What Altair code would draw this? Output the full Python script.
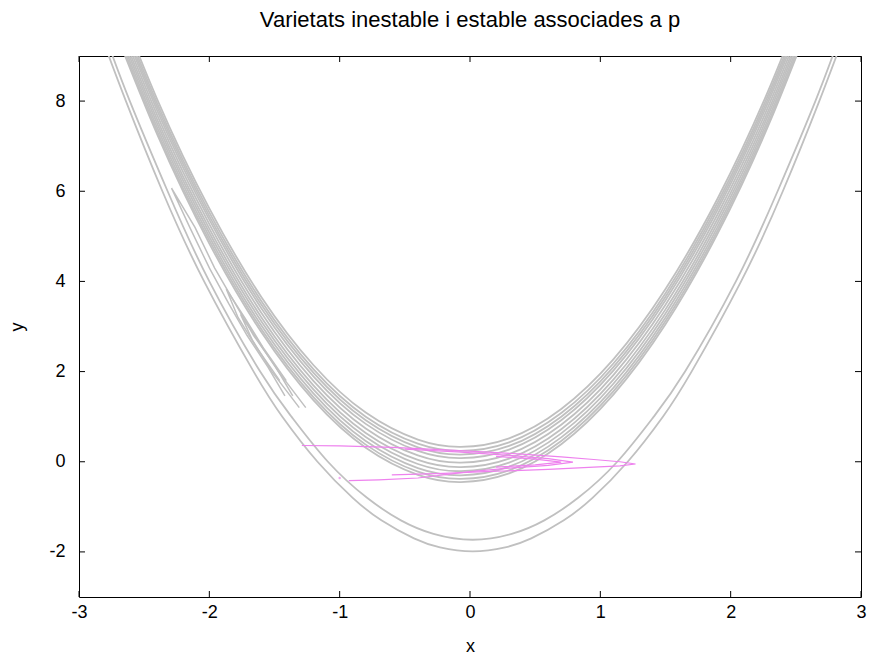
import altair as alt
import pandas as pd

# ---------------- data ----------------
X_TICKS = [-3, -2, -1, 0, 1, 2, 3]
Y_TICKS = [-2, 0, 2, 4, 6, 8]

# outer parabola pair (stable manifold, lower branches)
A_OUTER_X = [-2.81, -2.64, -2.36, -2.04, -1.66, -1.44, -1.17, -0.90, -0.68, -0.43, -0.23, 0.02,
             0.27, 0.47, 0.72, 0.94, 1.21, 1.48, 1.70, 2.08, 2.40, 2.68, 2.85]
A_OUTER_Y = [9.3, 8.0, 6.0, 4.0, 2.0, 1.0, 0.0, -0.8, -1.3, -1.7, -1.9, -1.99,
             -1.9, -1.7, -1.3, -0.8, 0.0, 1.0, 2.0, 4.0, 6.0, 8.0, 9.3]
A_INNER_X = [-2.78, -2.61, -2.32, -2.00, -1.61, -1.37, -1.09, -0.79, -0.53, -0.28, 0.02,
             0.32, 0.57, 0.83, 1.13, 1.41, 1.65, 2.04, 2.36, 2.65, 2.82]
A_INNER_Y = [9.3, 8.0, 6.0, 4.0, 2.0, 1.0, 0.0, -0.8, -1.3, -1.6, -1.73,
             -1.6, -1.3, -0.8, 0.0, 1.0, 2.0, 4.0, 6.0, 8.0, 9.3]

# main band of the stable manifold (shared x positions)
BAND_X = [-2.8, -2.4, -2.0, -1.6, -1.2, -0.8, -0.4, -0.07, 0.3, 0.7, 1.1, 1.5, 1.9, 2.3, 2.7]
BAND_1 = [10.91, 8.04, 5.62, 3.65, 2.14, 1.09, 0.49, 0.33, 0.52, 1.17, 2.27, 3.83, 5.84, 8.31, 11.23]
BAND_2 = [10.82, 7.95, 5.53, 3.56, 2.05, 1.00, 0.40, 0.24, 0.43, 1.08, 2.18, 3.74, 5.75, 8.22, 11.14]
BAND_3 = [10.74, 7.87, 5.45, 3.48, 1.97, 0.92, 0.32, 0.16, 0.35, 1.00, 2.10, 3.66, 5.67, 8.14, 11.06]
BAND_4 = [10.66, 7.79, 5.37, 3.40, 1.89, 0.84, 0.24, 0.08, 0.27, 0.92, 2.02, 3.58, 5.59, 8.06, 10.98]
BAND_5 = [10.56, 7.69, 5.27, 3.30, 1.79, 0.74, 0.14, -0.02, 0.17, 0.82, 1.92, 3.48, 5.49, 7.96, 10.88]
BAND_6 = [10.46, 7.59, 5.17, 3.20, 1.69, 0.64, 0.04, -0.12, 0.07, 0.72, 1.82, 3.38, 5.39, 7.86, 10.78]
BAND_7 = [10.37, 7.50, 5.08, 3.11, 1.60, 0.55, -0.05, -0.21, -0.02, 0.63, 1.73, 3.29, 5.30, 7.77, 10.69]
BAND_8 = [10.28, 7.41, 4.99, 3.02, 1.51, 0.46, -0.14, -0.30, -0.11, 0.54, 1.64, 3.20, 5.21, 7.68, 10.60]
BAND_9 = [10.20, 7.33, 4.91, 2.94, 1.43, 0.38, -0.22, -0.38, -0.19, 0.46, 1.56, 3.12, 5.13, 7.60, 10.52]
BAND_10 = [10.13, 7.26, 4.84, 2.87, 1.36, 0.31, -0.29, -0.45, -0.26, 0.39, 1.49, 3.05, 5.06, 7.53, 10.45]

# fold tips on the left arm
FOLD_1_X = [-1.42, -1.55, -1.71, -1.85, -2.00, -2.15, -2.29, -2.11, -1.96, -1.80, -1.66, -1.49, -1.36]
FOLD_1_Y = [1.46, 2.1, 2.8, 3.5, 4.3, 5.2, 6.07, 5.2, 4.3, 3.5, 2.8, 2.1, 1.46]
FOLD_2_X = [-1.46, -1.63, -1.78, -1.87, -1.73, -1.58, -1.41]
FOLD_2_Y = [1.8, 2.5, 3.2, 3.83, 3.2, 2.5, 1.8]
FOLD_3_X = [-1.31, -1.52, -1.67, -1.76, -1.63, -1.47, -1.26]
FOLD_3_Y = [1.2, 2.0, 2.7, 3.27, 2.7, 2.0, 1.2]

# unstable manifold (pink)
PINK_1_X = [-1.29, -1.0, -0.6, -0.23, 0.1, 0.4, 0.7, 0.95, 1.15, 1.27, 1.15, 0.95, 0.6, 0.2, -0.2, -0.6]
PINK_1_Y = [0.36, 0.35, 0.32, 0.27, 0.22, 0.17, 0.11, 0.05, 0.0, -0.05, -0.09, -0.12, -0.17, -0.21, -0.26, -0.29]
PINK_2_X = [-0.5, -0.1, 0.3, 0.6, 0.79, 0.6, 0.3, 0.0, -0.4, -0.7, -0.93]
PINK_2_Y = [0.28, 0.22, 0.14, 0.07, -0.01, -0.08, -0.14, -0.22, -0.36, -0.40, -0.42]
PINK_3_X = [0.2, 0.5, 0.70, 0.5, 0.2]
PINK_3_Y = [0.12, 0.06, -0.01, -0.07, -0.12]
PINK_DOT_X = [-1.0]
PINK_DOT_Y = [-0.36]

TITLE = "Varietats inestable i estable associades a p"

# ---------------- build tables ----------------
def rows(name, xs, ys):
    return [{"curve": name, "i": k, "x": x, "y": y} for k, (x, y) in enumerate(zip(xs, ys))]

smooth = []
smooth += rows("a_outer", A_OUTER_X, A_OUTER_Y)
smooth += rows("a_inner", A_INNER_X, A_INNER_Y)
for n, b in enumerate([BAND_1, BAND_2, BAND_3, BAND_4, BAND_5,
                       BAND_6, BAND_7, BAND_8, BAND_9, BAND_10]):
    smooth += rows(f"band{n}", BAND_X, b)
smooth_df = pd.DataFrame(smooth)

folds = []
folds += rows("f1", FOLD_1_X, FOLD_1_Y)
folds += rows("f2", FOLD_2_X, FOLD_2_Y)
folds += rows("f3", FOLD_3_X, FOLD_3_Y)
folds_df = pd.DataFrame(folds)

pink = []
pink += rows("p1", PINK_1_X, PINK_1_Y)
pink += rows("p2", PINK_2_X, PINK_2_Y)
pink += rows("p3", PINK_3_X, PINK_3_Y)
pink_df = pd.DataFrame(pink)
dot_df = pd.DataFrame({"x": PINK_DOT_X, "y": PINK_DOT_Y})

xt_df = pd.DataFrame({"v": X_TICKS})
yt_df = pd.DataFrame({"v": Y_TICKS})

W, H = 782, 541
GRAY = "#c0c0c0"
PINKC = "#ee82ee"

xscale = alt.Scale(domain=[-3, 3], nice=False, zero=False)
yscale = alt.Scale(domain=[-3, 9], nice=False, zero=False)

xaxis = alt.Axis(values=X_TICKS, title="x", labelExpr="'' + datum.value",
                 ticks=False, domain=False, grid=False, labelFlush=False,
                 labelPadding=6, titlePadding=16)
yaxis = alt.Axis(values=Y_TICKS, title="y", labelExpr="'' + datum.value",
                 ticks=False, domain=False, grid=False, labelFlush=False,
                 labelPadding=14, titlePadding=22)

base_x = alt.X("x:Q", scale=xscale, axis=xaxis)
base_y = alt.Y("y:Q", scale=yscale, axis=yaxis)

gray_smooth = alt.Chart(smooth_df).mark_line(
    color=GRAY, strokeWidth=1.8, interpolate="natural", clip=True
).encode(x=base_x, y=base_y, detail="curve:N", order="i:Q")

gray_folds = alt.Chart(folds_df).mark_line(
    color=GRAY, strokeWidth=1.5, clip=True
).encode(x="x:Q", y="y:Q", detail="curve:N", order="i:Q")

pink_lines = alt.Chart(pink_df).mark_line(
    color=PINKC, strokeWidth=1.2, clip=True
).encode(x="x:Q", y="y:Q", detail="curve:N", order="i:Q")

pink_dot = alt.Chart(dot_df).mark_point(
    color=PINKC, filled=True, size=6
).encode(x="x:Q", y="y:Q")

tick_bottom = alt.Chart(xt_df).mark_rule(color="black", strokeWidth=1).encode(
    x="v:Q", y=alt.value(H), y2=alt.value(H - 6))
tick_top = alt.Chart(xt_df).mark_rule(color="black", strokeWidth=1).encode(
    x="v:Q", y=alt.value(0), y2=alt.value(6))
tick_left = alt.Chart(yt_df).mark_rule(color="black", strokeWidth=1).encode(
    y="v:Q", x=alt.value(0), x2=alt.value(6))
tick_right = alt.Chart(yt_df).mark_rule(color="black", strokeWidth=1).encode(
    y="v:Q", x=alt.value(W), x2=alt.value(W - 6))

chart = alt.layer(
    gray_smooth, gray_folds, pink_lines, pink_dot,
    tick_bottom, tick_top, tick_left, tick_right
).properties(
    width=W, height=H,
    title=alt.TitleParams(TITLE, font="Liberation Sans", fontSize=22, fontWeight="normal",
                          color="black", anchor="middle", offset=24),
    autosize=alt.AutoSizeParams(type="none"),
    padding={"left": 79, "top": 56, "right": 13, "bottom": 67},
).configure_view(
    stroke="black", strokeWidth=1
).configure_axis(
    labelFont="Liberation Sans", labelFontSize=18, labelColor="black",
    titleFont="Liberation Sans", titleFontSize=18, titleColor="black", titleFontWeight="normal"
)

chart.save("out.html", embed_options={"renderer": "svg", "actions": False})
